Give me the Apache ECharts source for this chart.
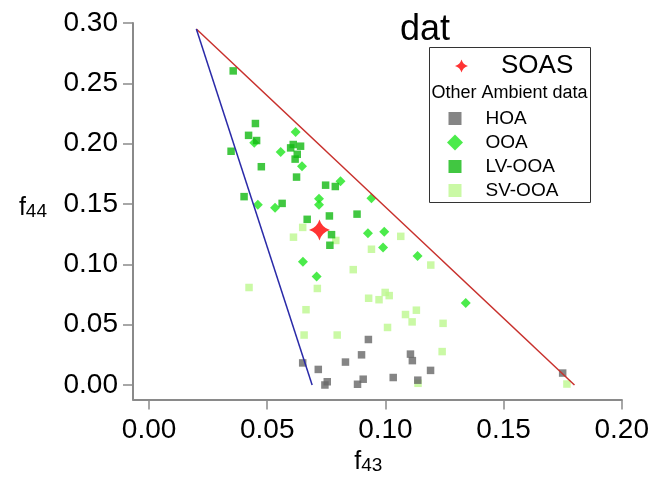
<!DOCTYPE html>
<html>
<head>
<meta charset="utf-8">
<script src="https://cdn.jsdelivr.net/npm/echarts@6/dist/echarts.min.js"></script>
<style>
  html, body { margin: 0; padding: 0; background: #fff; }
  #chart { width: 652px; height: 480px; }
</style>
</head>
<body>
<div id="chart"></div>
<script>
// f44 vs f43 triangle plot: SOAS against other ambient PMF factors

const xTicks = [0, 0.05, 0.10, 0.15, 0.20];
const yTicks = [0, 0.05, 0.10, 0.15, 0.20, 0.25, 0.30];

// triangle edges (apex at f43 = 0.02, f44 = 0.295)
const rightEdge = [[0.02, 0.295], [0.18, 0.0]];
const leftEdge = [[0.02, 0.295], [0.069, 0.0]];

const soas = [[0.0721, 0.1284]];

const hoa = [
  [0.0650, 0.0183], [0.0716, 0.0129], [0.0744, 0.0000], [0.0754, 0.0027],
  [0.0831, 0.0190], [0.0882, 0.0006], [0.0906, 0.0048], [0.0899, 0.0250],
  [0.0928, 0.0377], [0.1033, 0.0062], [0.1106, 0.0256], [0.1114, 0.0202],
  [0.1137, 0.0040], [0.1191, 0.0121], [0.1750, 0.0099]
];

const ooa = [
  [0.0445, 0.2007], [0.0557, 0.1931], [0.0620, 0.2096], [0.0647, 0.1812],
  [0.0460, 0.1494], [0.0533, 0.1468], [0.0719, 0.1543], [0.0719, 0.1494],
  [0.0810, 0.1688], [0.0941, 0.1548], [0.0926, 0.1258], [0.0995, 0.1271],
  [0.0990, 0.1139], [0.1136, 0.1069], [0.0651, 0.1022], [0.0709, 0.0900],
  [0.1340, 0.0679]
];

const lvooa = [
  [0.0356, 0.2603], [0.0450, 0.2167], [0.0421, 0.2069], [0.0455, 0.2026],
  [0.0347, 0.1937], [0.0610, 0.1993], [0.0599, 0.1965], [0.0641, 0.1979],
  [0.0627, 0.1912], [0.0618, 0.1872], [0.0475, 0.1809], [0.0624, 0.1723],
  [0.0747, 0.1656], [0.0788, 0.1645], [0.0402, 0.1561], [0.0563, 0.1505],
  [0.0669, 0.1373], [0.0763, 0.1401], [0.0880, 0.1416], [0.0772, 0.1246],
  [0.0765, 0.1158]
];

const svooa = [
  [0.0650, 0.1306], [0.0611, 0.1225], [0.0790, 0.1198], [0.1065, 0.1232],
  [0.0941, 0.1125], [0.1192, 0.0994], [0.0864, 0.0956], [0.0712, 0.0800],
  [0.0423, 0.0808], [0.0999, 0.0767], [0.1016, 0.0741], [0.0973, 0.0707],
  [0.0929, 0.0719], [0.0664, 0.0624], [0.1131, 0.0620], [0.1085, 0.0584],
  [0.1113, 0.0523], [0.1244, 0.0511], [0.1009, 0.0477], [0.0656, 0.0414],
  [0.0796, 0.0414], [0.1240, 0.0277], [0.1138, 0.0014], [0.1768, 0.0008]
];

const FONT = 'Liberation Sans, Arial, sans-serif';
const AXIS_COLOR = '#8a8a8a';

const colors = {
  soas: '#ff0000',
  hoa: '#666666',
  ooa: '#1ee61e',
  lv: '#12b912',
  sv: '#bdf78f'
};

// four-pointed star with concave sides
const starPath = 'path://M10,0 Q12.3,7.7 20,10 Q12.3,12.3 10,20 Q7.7,12.3 0,10 Q7.7,7.7 10,0 Z';
// legend icons share one box; the invisible corner points keep their relative sizes
const legendSquare = 'path://M0,0 M19,19 M3,3 H16 V16 H3 Z';
const legendDiamond = 'path://M0,0 M19,19 M9.5,1.5 L17.5,9.5 L9.5,17.5 L1.5,9.5 Z';

const chart = echarts.init(document.getElementById('chart'), null, { renderer: 'canvas' });

const option = {
  animation: false,
  backgroundColor: '#ffffff',
  grid: { left: 133, right: 30, top: 23, bottom: 70, containLabel: false },
  xAxis: {
    type: 'value',
    min: -0.0068,
    max: 0.20,
    splitLine: { show: false },
    axisLine: { show: true, onZero: false, lineStyle: { color: AXIS_COLOR, width: 2 } },
    axisTick: { show: true, length: 10, customValues: xTicks, lineStyle: { color: AXIS_COLOR, width: 1.5 } },
    axisLabel: {
      customValues: xTicks,
      margin: 17,
      color: '#000',
      fontFamily: FONT,
      fontSize: 28,
      formatter: v => v.toFixed(2)
    },
    name: '{a|f}{b|43}',
    nameLocation: 'middle',
    nameGap: 40,
    nameTextStyle: {
      padding: [0, 18, 0, 0],
      rich: {
        a: { fontFamily: FONT, fontSize: 25, color: '#000', padding: [0, 0, 7, 0] },
        b: { fontFamily: FONT, fontSize: 19, color: '#000' }
      }
    }
  },
  yAxis: {
    type: 'value',
    min: -0.0121,
    max: 0.30,
    splitLine: { show: false },
    axisLine: { show: true, onZero: false, lineStyle: { color: AXIS_COLOR, width: 2 } },
    axisTick: { show: true, length: 10, customValues: yTicks, lineStyle: { color: AXIS_COLOR, width: 1.5 } },
    axisLabel: {
      customValues: yTicks,
      margin: 15,
      color: '#000',
      fontFamily: FONT,
      fontSize: 28,
      formatter: v => v.toFixed(2)
    },
    name: '{a|f}{b|44}',
    nameLocation: 'middle',
    nameRotate: 0,
    nameGap: 86,
    nameTextStyle: {
      rich: {
        a: { fontFamily: FONT, fontSize: 25, color: '#000', padding: [0, 0, 6, 0] },
        b: { fontFamily: FONT, fontSize: 19, color: '#000' }
      }
    }
  },
  legend: [
    {
      data: [{ name: 'SOAS', icon: starPath }],
      left: 455,
      top: 53,
      padding: 0,
      itemWidth: 13,
      itemHeight: 13,
      selectedMode: false,
      textStyle: { fontFamily: FONT, fontSize: 26, color: '#000', padding: [0, 0, 0, 28] }
    },
    {
      data: [
        { name: 'HOA', icon: legendSquare },
        { name: 'OOA', icon: legendDiamond },
        { name: 'LV-OOA', icon: legendSquare },
        { name: 'SV-OOA', icon: legendSquare }
      ],
      orient: 'vertical',
      left: 445.5,
      top: 109,
      padding: 0,
      itemGap: 5,
      itemWidth: 19,
      itemHeight: 19,
      selectedMode: false,
      textStyle: { fontFamily: FONT, fontSize: 19, color: '#000', padding: [0, 0, 0, 16] }
    }
  ],
  graphic: [
    {
      type: 'rect',
      shape: { x: 429.5, y: 47.5, width: 161, height: 155 },
      style: { fill: 'none', stroke: '#333', lineWidth: 1 }
    },
    {
      type: 'text',
      x: 431.5,
      y: 93.5,
      style: { text: 'Other Ambient data', font: '18px ' + FONT, fill: '#000', verticalAlign: 'middle' }
    },
    {
      type: 'text',
      x: 400,
      y: 30,
      style: { text: 'dat', font: '36px ' + FONT, fill: '#000', verticalAlign: 'middle' }
    }
  ],
  series: [
    {
      name: 'SV-OOA', type: 'scatter', data: svooa, symbol: 'rect', symbolSize: 7.5,
      itemStyle: { color: colors.sv }, z: 2
    },
    {
      name: 'OOA', type: 'scatter', data: ooa, symbol: 'diamond', symbolSize: 10,
      itemStyle: { color: colors.ooa }, z: 3
    },
    {
      name: 'LV-OOA', type: 'scatter', data: lvooa, symbol: 'rect', symbolSize: 7.5,
      itemStyle: { color: colors.lv }, z: 4
    },
    {
      name: 'HOA', type: 'scatter', data: hoa, symbol: 'rect', symbolSize: 7.5,
      itemStyle: { color: colors.hoa }, z: 5
    },
    {
      type: 'line', data: rightEdge, symbol: 'none', silent: true,
      lineStyle: { color: '#c8302c', width: 1.5 }, z: 6
    },
    {
      type: 'line', data: leftEdge, symbol: 'none', silent: true,
      lineStyle: { color: '#2a2aa8', width: 1.5 }, z: 6
    },
    {
      name: 'SOAS', type: 'scatter', data: soas, symbol: starPath, symbolSize: 21,
      itemStyle: { color: colors.soas }, z: 7
    }
  ]
};

chart.setOption(option);
</script>
</body>
</html>
